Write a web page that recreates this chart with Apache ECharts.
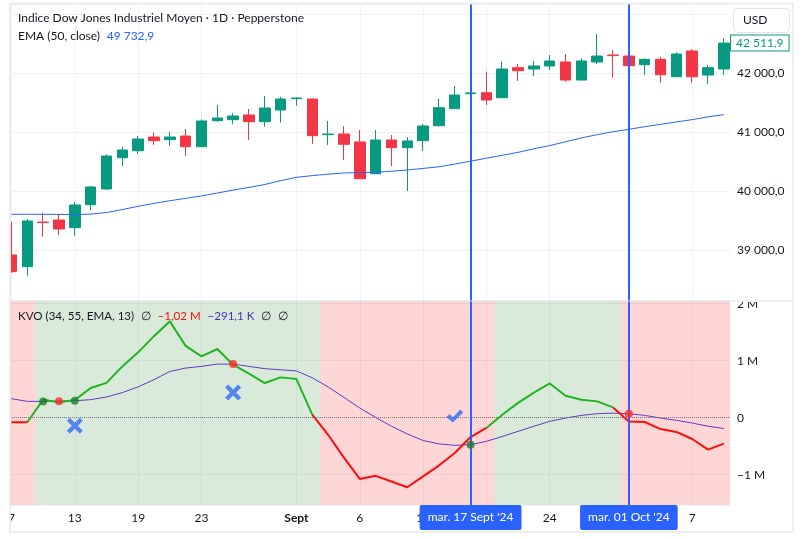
<!DOCTYPE html>
<html>
<head>
<meta charset="utf-8">
<script src="https://cdn.jsdelivr.net/npm/echarts@6/dist/echarts.min.js"></script>
<style>
  html, body { margin: 0; padding: 0; background: #fff; }
  #chart-container { width: 803px; height: 539px; }
</style>
</head>
<body>
<div id="chart-container"></div>
<script>
// daily bars from 7 Aug to 9 Oct 2024 (index 0..45)
var openP  = [38920, 38722, 39478, 39513, 39383, 39773, 40039, 40569, 40688, 40920, 40875, 40937, 40756, 41197, 41214, 41293,
              41180, 41378, 41570, 41564, 40960, 40971, 40836, 40298, 40869, 40739, 40858, 41112, 41400, 41655, 41671, 41586,
              42095, 42073, 42124, 42192, 41886, 42192, 42310, 42293, 42146, 42237, 41942, 42378, 41971, 42073];
var closeP = [38637, 39497, 39470, 39361, 39768, 40073, 40598, 40700, 40886, 40858, 40920, 40756, 41192, 41242, 41276, 41180,
              41412, 41564, 41582, 40942, 40970, 40797, 40214, 40869, 40739, 40853, 41107, 41417, 41632, 41668, 41547, 42073,
              42044, 42124, 42209, 41886, 42209, 42293, 42300, 42129, 42237, 41976, 42327, 41942, 42095, 42511.9];
var lowP   = [38620, 38569, 39230, 39259, 39247, 39683, 40022, 40429, 40632, 40785, 40768, 40598, 40750, 41180, 41136, 40869,
              41095, 41163, 41451, 40802, 40785, 40530, 40210, 40290, 40429, 40005, 40683, 41100, 41395, 41640, 41463, 41580,
              41870, 41954, 42056, 41858, 41880, 42158, 41926, 42110, 41971, 41841, 41935, 41841, 41819, 41971];
var highP  = [39485, 39530, 39637, 39615, 39819, 40090, 40627, 40756, 40937, 40993, 41005, 41056, 41220, 41463, 41322, 41395,
              41615, 41603, 41593, 41570, 41192, 41107, 41039, 41039, 40954, 40920, 41141, 41570, 41785, 41680, 42027, 42197,
              42158, 42209, 42310, 42327, 42254, 42666, 42395, 42310, 42254, 42276, 42356, 42407, 42141, 42593];
var ema50  = [39610, 39610, 39610, 39608, 39606, 39612, 39640, 39690, 39745, 39795, 39840, 39880, 39922, 39970, 40020, 40065,
              40115, 40180, 40237, 40265, 40290, 40310, 40318, 40322, 40340, 40361, 40388, 40415, 40460, 40510, 40560, 40610,
              40660, 40720, 40775, 40840, 40905, 40960, 41010, 41051, 41095, 41135, 41175, 41215, 41262, 41300];

// Klinger oscillator, in millions
var kvo       = [-0.08, -0.08, 0.316, 0.27, 0.31, 0.52, 0.61, 0.90, 1.146, 1.43, 1.69, 1.26, 1.076, 1.205, 0.93, 0.772,
                 0.608, 0.707, 0.678, 0.053, -0.30, -0.70, -1.075, -1.02, -1.12, -1.22, -1.03, -0.84, -0.62, -0.34, -0.18, 0.05,
                 0.26, 0.44, 0.60, 0.386, 0.316, 0.286, 0.18, -0.065, -0.076, -0.20, -0.25, -0.374, -0.56, -0.456];
var kvoSignal = [0.333, 0.286, 0.286, 0.29, 0.298, 0.316, 0.363, 0.44, 0.54, 0.667, 0.81, 0.87, 0.90, 0.94, 0.94, 0.90,
                 0.86, 0.84, 0.82, 0.70, 0.54, 0.356, 0.17, 0.005, -0.15, -0.286, -0.40, -0.46, -0.485, -0.474, -0.415, -0.33,
                 -0.24, -0.15, -0.065, -0.006, 0.04, 0.07, 0.08, 0.07, 0.04, -0.006, -0.047, -0.094, -0.15, -0.19];

var sellIdx = [4, 14];
var sellVal = [-0.14, 0.44];
var buyIdx = [28];
var buyVal = [0.03];

// first bar of each new background zone (starts red)
var bgSwitch = [2, 20, 31, 39];

var tickIdx  = [0, 4, 8, 12, 18, 22, 26, 30, 34, 39, 43];
var tickText = ['7', '13', '19', '23', 'Sept', '6', '12', '18', '24', 'Oct', '7'];

var crossIdx  = [29, 39];
var crossText = ["mar. 17 Sept '24", "mar. 01 Oct '24"];

var FONT = 'Lato, "Noto Sans", sans-serif';
var TXT = '#131722';
var GRIDC = '#f0f1f4';
var UP = '#089981';
var DOWN = '#f23645';
var BLUE = '#2962ff';

var X_MIN = -0.095, X_MAX = 45.388;

function fmtPrice(v) {
  var s = v.toFixed(1).split('.');
  return s[0].replace(/\B(?=(\d{3})+(?!\d))/g, ' ') + ',' + s[1];
}

var dom = document.getElementById('chart-container');
var myChart = echarts.init(dom, null, { renderer: 'canvas' });

var n = kvo.length;
var candles = openP.map(function (o, i) { return [i, o, closeP[i], lowP[i], highP[i]]; });
var emaData = ema50.map(function (v, i) { return [i, v]; });
var sigData = kvoSignal.map(function (v, i) { return [i, v]; });

// kvo line coloured by the sign of each segment's end value
var greenData = [], redData = [];
for (var i = 0; i < n; i++) {
  var nextPos = i + 1 < n && kvo[i + 1] >= 0;
  var nextNeg = i + 1 < n && kvo[i + 1] < 0;
  greenData.push([i, (kvo[i] >= 0 || nextPos) ? kvo[i] : null]);
  redData.push([i, (kvo[i] < 0 || nextNeg) ? kvo[i] : null]);
}

// crossing dots of kvo vs signal
var dots = [];
for (var j = 1; j < n; j++) {
  var a = kvo[j - 1] - kvoSignal[j - 1], b = kvo[j] - kvoSignal[j];
  if ((a < 0) !== (b < 0)) {
    dots.push({ value: [j, kvoSignal[j]], itemStyle: { color: b > 0 ? '#1f7a34' : '#ff2a2a' } });
  }
}

// background zones
var bounds = [X_MIN].concat(bgSwitch.map(function (s) { return s - 0.5; })).concat([X_MAX]);
var zones = [];
for (var k = 0; k < bounds.length - 1; k++) {
  zones.push([
    { xAxis: bounds[k], itemStyle: { color: k % 2 === 0 ? 'rgba(255, 0, 0, 0.16)' : 'rgba(56, 142, 60, 0.19)' } },
    { xAxis: bounds[k + 1] }
  ]);
}

var crossLinesTop = crossIdx.map(function (c) { return { xAxis: c }; });
var crossLinesBottom = crossIdx.map(function (c, m) {
  return {
    xAxis: c,
    label: {
      show: true, position: 'start', distance: 0,
      formatter: crossText[m],
      color: '#fff', backgroundColor: BLUE, borderRadius: 2,
      padding: [6, 8, 6, 8], fontSize: 12, lineHeight: 13, fontFamily: FONT
    }
  };
});

var labelMap = {};
tickIdx.forEach(function (t, m) { labelMap[t] = tickText[m]; });

var option = {
  animation: false,
  backgroundColor: '#fff',
  textStyle: { fontFamily: FONT },
  grid: [
    { left: 10, right: 73, top: 4, height: 297 },
    { left: 10, right: 73, top: 301, height: 204 }
  ],
  xAxis: [
    {
      type: 'value', gridIndex: 0, min: X_MIN, max: X_MAX,
      axisLine: { show: false },
      axisTick: { show: false, customValues: tickIdx },
      axisLabel: { show: false },
      splitLine: { show: true, lineStyle: { color: GRIDC } }
    },
    {
      type: 'value', gridIndex: 1, min: X_MIN, max: X_MAX,
      axisLine: { show: false },
      axisTick: { show: false, customValues: tickIdx },
      axisLabel: {
        show: true, customValues: tickIdx, margin: 7, color: TXT, fontSize: 12,
        formatter: function (v) {
          var t = labelMap[Math.round(v)] || '';
          return t === 'Sept' || t === 'Oct' ? '{b|' + t + '}' : t;
        },
        rich: { b: { fontWeight: 'bold', color: TXT, fontSize: 12, fontFamily: FONT } }
      },
      splitLine: { show: true, lineStyle: { color: GRIDC } }
    }
  ],
  yAxis: [
    {
      type: 'value', gridIndex: 0, position: 'right', min: 38140, max: 43175,
      axisLine: { show: false }, axisTick: { show: false },
      splitLine: { lineStyle: { color: GRIDC } },
      axisLabel: {
        margin: 7, color: TXT, fontSize: 12,
        formatter: function (v) {
          if (Math.abs(v % 1000) > 1e-6 || v > 42900) return '';
          return fmtPrice(v);
        }
      }
    },
    {
      type: 'value', gridIndex: 1, position: 'right', min: -1.532, max: 2.047,
      axisLine: { show: false }, axisTick: { show: false },
      splitLine: { lineStyle: { color: GRIDC } },
      axisLabel: {
        margin: 7, color: TXT, fontSize: 12,
        formatter: function (v) {
          if (Math.abs(v - Math.round(v)) > 1e-6) return '';
          if (v === 0) return '0';
          return (v < 0 ? '\u2212' : '') + Math.abs(v) + ' M';
        }
      }
    }
  ],
  series: [
    {
      type: 'candlestick', xAxisIndex: 0, yAxisIndex: 0,
      data: candles, encode: { x: 0, y: [1, 2, 3, 4] },
      barWidth: 11, clip: true,
      itemStyle: { color: UP, color0: DOWN, borderColor: UP, borderColor0: DOWN, borderWidth: 1 },
      markLine: {
        silent: true, symbol: ['none', 'none'], animation: false,
        label: { show: false },
        lineStyle: { color: BLUE, width: 2, type: 'solid' },
        data: crossLinesTop
      }
    },
    {
      type: 'line', xAxisIndex: 0, yAxisIndex: 0, data: emaData,
      showSymbol: false, lineStyle: { color: BLUE, width: 1 }, z: 3,
      markLine: {
        silent: true, symbol: ['none', 'none'], animation: false,
        lineStyle: { color: 'rgba(0,0,0,0)', width: 1 },
        data: [{
          yAxis: closeP[n - 1],
          label: {
            show: true, position: 'end', distance: 1, opacity: 1,
            formatter: fmtPrice(closeP[n - 1]),
            color: UP, backgroundColor: '#fff', borderColor: UP, borderWidth: 1,
            padding: [2, 5, 1, 5], fontSize: 12, fontFamily: FONT
          }
        }]
      }
    },
    {
      type: 'line', xAxisIndex: 1, yAxisIndex: 1, data: sigData,
      showSymbol: false, lineStyle: { color: '#6339c4', width: 1 },
      markArea: { silent: true, data: zones },
      markLine: {
        silent: true, symbol: ['none', 'none'], animation: false,
        label: { show: false },
        lineStyle: { color: BLUE, width: 2, type: 'solid' },
        data: [{ yAxis: 0, lineStyle: { color: '#787b86', width: 1, type: 'dotted' } }].concat(crossLinesBottom)
      }
    },
    {
      type: 'line', xAxisIndex: 1, yAxisIndex: 1, data: greenData,
      showSymbol: false, connectNulls: false, lineStyle: { color: '#1fb51f', width: 2 }, z: 4
    },
    {
      type: 'line', xAxisIndex: 1, yAxisIndex: 1, data: redData,
      showSymbol: false, connectNulls: false, lineStyle: { color: '#ff0d0d', width: 2 }, z: 4
    },
    {
      type: 'scatter', xAxisIndex: 1, yAxisIndex: 1, data: dots,
      symbolSize: 8, z: 8
    },
    {
      type: 'scatter', xAxisIndex: 1, yAxisIndex: 1,
      data: sellIdx.map(function (s, m) { return [s, sellVal[m]]; }),
      symbol: 'path://M0,3L3,0L8,5L13,0L16,3L11,8L16,13L13,16L8,11L3,16L0,13L5,8Z',
      symbolSize: 16, itemStyle: { color: '#2f6bf7' }, z: 8
    },
    {
      type: 'scatter', xAxisIndex: 1, yAxisIndex: 1,
      data: buyIdx.map(function (s, m) { return [s, buyVal[m]]; }),
      symbol: 'path://M0,7.5L3.5,4.5L6.5,8L14,0L17,3L6.5,13Z',
      symbolSize: [17, 13], itemStyle: { color: '#2f6bf7' }, z: 8
    }
  ],
  graphic: [
    { type: 'rect', z: 90, silent: true, shape: { x: 0, y: 0, width: 9, height: 539 }, style: { fill: '#fff' } },
    { type: 'rect', z: 90, silent: true, shape: { x: 731, y: 288, width: 61, height: 14 }, style: { fill: '#fff' } },
    { type: 'line', z: 95, silent: true, shape: { x1: 10, y1: 301, x2: 793, y2: 301 }, style: { stroke: '#e0e3eb', lineWidth: 1 } },
    { type: 'rect', z: 95, silent: true, shape: { x: 10, y: 3.5, width: 783, height: 528.5 }, style: { fill: 'none', stroke: '#eceef2', lineWidth: 2 } },
    { type: 'rect', z: 96, silent: true, shape: { x: 733.5, y: 8.5, width: 56, height: 24, r: 4 }, style: { fill: '#fff', stroke: '#e0e3eb', lineWidth: 1 } },
    { type: 'text', z: 97, silent: true, style: { x: 743, y: 20.5, text: 'USD', fill: TXT, font: '12px ' + FONT, verticalAlign: 'middle' } },
    { type: 'text', z: 97, silent: true, style: { x: 18, y: 18, text: 'Indice Dow Jones Industriel Moyen \u00b7 1D \u00b7 Pepperstone', fill: TXT, font: '12px ' + FONT, verticalAlign: 'middle' } },
    {
      type: 'text', z: 97, silent: true,
      style: {
        x: 18, y: 36.5, verticalAlign: 'middle',
        text: '{a|EMA (50, close)}  {v|49 732,9}',
        rich: {
          a: { fill: TXT, fontSize: 12, fontFamily: FONT },
          v: { fill: BLUE, fontSize: 12, fontFamily: FONT }
        }
      }
    },
    {
      type: 'text', z: 97, silent: true,
      style: {
        x: 18, y: 316, verticalAlign: 'middle',
        text: '{a|KVO (34, 55, EMA, 13)}  {a|\u2205}  {r|\u22121,02 M}  {p|\u2212291,1 K}  {a|\u2205}  {a|\u2205}',
        rich: {
          a: { fill: TXT, fontSize: 11.6, fontFamily: FONT },
          r: { fill: '#ff0d0d', fontSize: 11.6, fontFamily: FONT },
          p: { fill: '#4a2fc0', fontSize: 11.6, fontFamily: FONT }
        }
      }
    }
  ]
};

myChart.setOption(option);
window.addEventListener('resize', myChart.resize);
</script>
</body>
</html>
